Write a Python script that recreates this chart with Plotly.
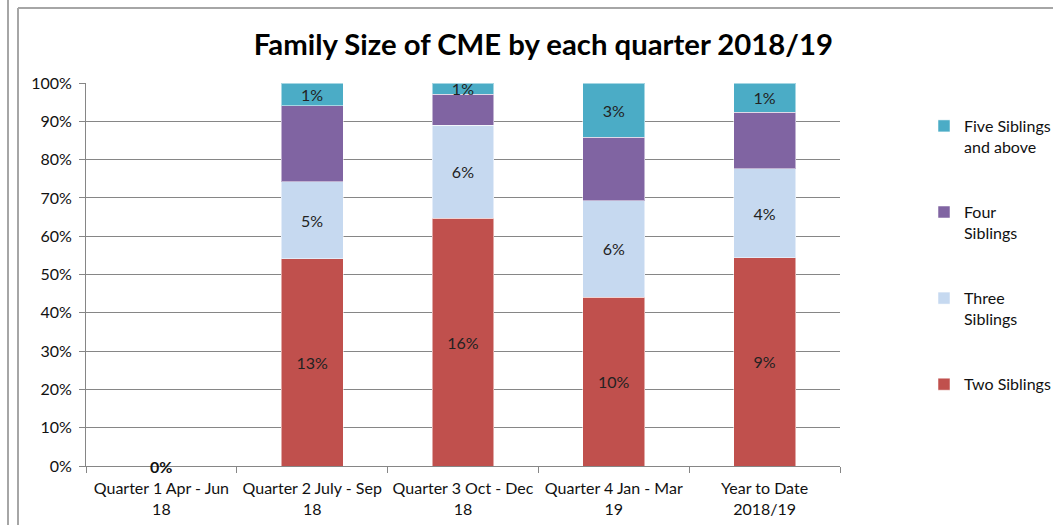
import plotly.graph_objects as go

categories = ["Quarter 1 Apr - Jun<br>18", "Quarter 2 July - Sep<br>18",
              "Quarter 3 Oct - Dec<br>18", "Quarter 4 Jan - Mar<br>19",
              "Year to Date<br>2018/19"]
two_share = [0, 54.1, 64.7, 44.1, 54.4]
three_share = [0, 20.1, 24.3, 25.2, 23.2]
four_share = [0, 19.9, 8.0, 16.6, 14.7]
five_share = [0, 5.9, 3.0, 14.1, 7.7]
two_labels = ["", "13%", "16%", "10%", "9%"]
three_labels = ["", "5%", "6%", "6%", "4%"]
four_labels = ["", "", "", "", ""]
five_labels = ["", "1%", "1%", "3%", "1%"]
q1_label = "0%"
series_names = ["Two Siblings", "Three<br>Siblings", "Four<br>Siblings", "Five Siblings<br>and above"]
colors = ["#C0504D", "#C6D9F0", "#8064A2", "#4BACC6"]

FONT = "Lato"
fig = go.Figure()
for i, (vals, labs) in enumerate([(two_share, two_labels), (three_share, three_labels),
                                  (four_share, four_labels), (five_share, five_labels)]):
    fig.add_trace(go.Bar(
        x=categories, y=vals, name=series_names[i], text=labs,
        textposition="inside", insidetextanchor="middle", constraintext="none",
        textfont=dict(family=FONT, size=16, color="#222"),
        marker=dict(color=colors[i], line=dict(color="rgba(255,255,255,0.5)", width=1)),
        legendgroup=str(i), legendrank=4 - i, hoverinfo="skip",
    ))

fig.add_annotation(x=categories[0], y=0, text="<b>" + q1_label + "</b>", showarrow=False,
                   font=dict(family=FONT, size=16, color="#111"), yanchor="middle")

L, R, T, B = 86, 213, 83, 59
W, H = 1053, 525
pw = W - L - R
ph = H - T - B
def px_x(x):
    return (x - L) / pw
def px_y(y):
    return (H - B - y) / ph

line = dict(color="#A6A6A6", width=2)
fig.add_shape(type="line", xref="paper", yref="paper", x0=px_x(8), x1=px_x(8), y0=px_y(0), y1=px_y(525), line=line)
fig.add_shape(type="line", xref="paper", yref="paper", x0=px_x(18), x1=px_x(18), y0=px_y(8), y1=px_y(525), line=line)
fig.add_shape(type="line", xref="paper", yref="paper", x0=px_x(18), x1=px_x(1053), y0=px_y(8), y1=px_y(8), line=line)

fig.update_layout(
    width=W, height=H, barmode="stack", bargap=0.59,
    margin=dict(l=L, r=R, t=T, b=B, autoexpand=False),
    paper_bgcolor="white", plot_bgcolor="white",
    font=dict(family=FONT, size=16, color="#111"),
    title=dict(text="<b>Family Size of CME by each quarter 2018/19</b>", x=0.516, xanchor="center",
               y=1 - 45 / H, yanchor="middle", font=dict(family=FONT, size=29.3, color="#000")),
    showlegend=True,
    legend=dict(x=px_x(924), xanchor="left", y=px_y(109), yanchor="top",
                traceorder="grouped", tracegroupgap=41.5, valign="top",
                font=dict(family=FONT, size=16, color="#111"), itemwidth=30,
                bgcolor="rgba(0,0,0,0)"),
    xaxis=dict(showline=True, linecolor="#868686", linewidth=1, ticks="outside",
               tickson="boundaries", ticklen=6, tickcolor="#868686", ticklabelstandoff=8,
               showgrid=False, tickfont=dict(family=FONT, size=16, color="#111")),
    yaxis=dict(range=[0, 100], dtick=10, ticksuffix="%", showgrid=True, gridcolor="#868686",
               gridwidth=1, showline=True, linecolor="#868686", ticks="outside", ticklen=6,
               tickcolor="#868686", zeroline=False, ticklabelstandoff=4,
               tickfont=dict(family=FONT, size=16, color="#111")),
)
fig.write_html("out.html", config={"displayModeBar": False},
               post_script="document.body.style.margin='0';")
